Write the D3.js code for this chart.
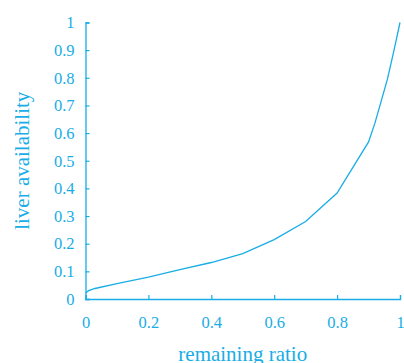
<!DOCTYPE html>
<html>
<head>
<meta charset="utf-8">
<script src="https://cdn.jsdelivr.net/npm/d3@7"></script>
<style>
  body { margin: 0; background: #fff; }
  svg text { font-family: "Liberation Serif", serif; fill: #18ade6; }
</style>
</head>
<body>
<div id="chart"></div>
<script>
// remaining ratio vs liver availability
var ratio = [0, 0.01, 0.03, 0.1, 0.2, 0.3, 0.4, 0.5, 0.6, 0.7, 0.8, 0.9, 0.92, 0.94, 0.96, 0.98, 1];
var availability = [0.022, 0.03, 0.038, 0.056, 0.079, 0.106, 0.132, 0.164, 0.215, 0.28, 0.383, 0.568, 0.635, 0.715, 0.795, 0.895, 1];
var tickValues = [0, 0.2, 0.4, 0.6, 0.8, 1];
var yTickValues = [0, 0.1, 0.2, 0.3, 0.4, 0.5, 0.6, 0.7, 0.8, 0.9, 1];

var svgWidth = 404;
var svgHeight = 363;
var color = "#18ade6";

var margin = { top: 22.5, right: 4, bottom: 64, left: 85.5 };
var width = svgWidth - margin.left - margin.right;
var height = svgHeight - margin.top - margin.bottom;

var svg = d3.select("#chart")
  .append("svg")
  .attr("width", svgWidth)
  .attr("height", svgHeight);

var chartGroup = svg.append("g")
  .attr("transform", `translate(${margin.left}, ${margin.top})`);

var x = d3.scaleLinear().domain([0, 1]).range([0, width]);
var y = d3.scaleLinear().domain([0, 1]).range([height, 0]);

// axes, ticks pointing inward
var xAxis = chartGroup.append("g")
  .attr("transform", `translate(0, ${height})`)
  .call(d3.axisBottom(x).tickValues(tickValues).tickSize(-4).tickPadding(17)
    .tickFormat(d3.format("")));

var yAxis = chartGroup.append("g")
  .call(d3.axisLeft(y).tickValues(yTickValues).tickSize(-4).tickPadding(11)
    .tickFormat(d3.format("")));

[xAxis, yAxis].forEach(function(ax) {
  ax.select(".domain").attr("stroke", color).attr("stroke-width", 1.3);
  ax.selectAll(".tick line").attr("stroke", color).attr("stroke-width", 1.2);
  ax.selectAll(".tick text")
    .attr("fill", color)
    .style("font-family", "Liberation Serif, serif")
    .style("font-size", "16.5px");
});

// curve
var line = d3.line()
  .x(function(d, i) { return x(ratio[i]); })
  .y(function(d) { return y(d); });

chartGroup.append("path")
  .datum(availability)
  .attr("d", line)
  .attr("fill", "none")
  .attr("stroke", color)
  .attr("stroke-width", 1.3);

// axis titles
chartGroup.append("text")
  .attr("x", width / 2)
  .attr("y", height + 62)
  .attr("text-anchor", "middle")
  .style("font-size", "21px")
  .text("remaining ratio");

chartGroup.append("text")
  .attr("transform", "rotate(-90)")
  .attr("x", 0 - (height / 2))
  .attr("y", 29 - margin.left)
  .attr("text-anchor", "middle")
  .style("font-size", "21px")
  .text("liver availability");
</script>
</body>
</html>
